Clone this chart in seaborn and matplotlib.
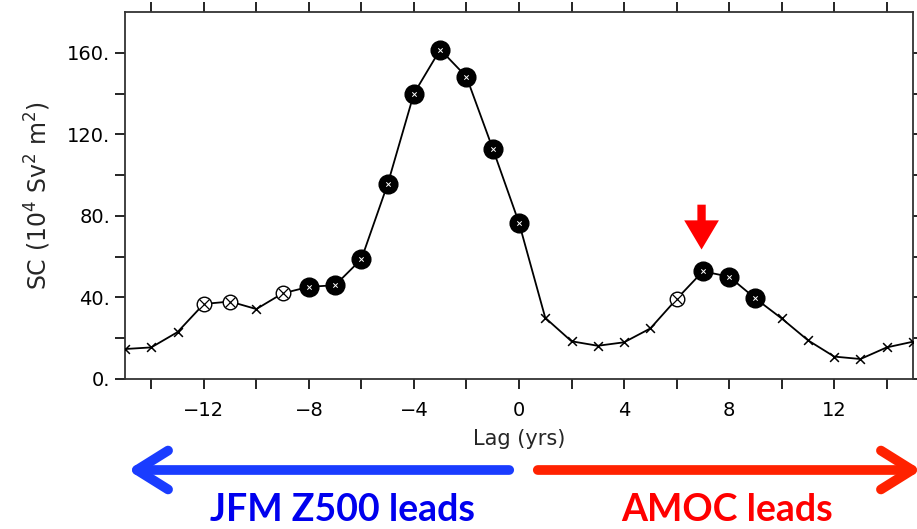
import numpy as np
import pandas as pd
import matplotlib
matplotlib.use("Agg")
import matplotlib.pyplot as plt
import seaborn as sns

# ---------------- DATA ----------------
lags = list(range(-15, 16))
sc_values = [14.7, 15.5, 23.0, 36.8, 38.0, 34.3, 42.0, 45.2, 46.0, 58.8, 95.6,
             140.0, 161.6, 148.2, 113.0, 76.6, 30.0, 18.5, 16.3, 18.0, 24.8,
             39.2, 52.8, 50.2, 39.5, 29.7, 19.0, 11.0, 9.8, 15.5, 18.3]
# significance class per lag: "ns" cross, "s90" circled cross, "s95" filled circle
signif = ["ns", "ns", "ns", "s90", "s90", "ns", "s90", "s95", "s95", "s95", "s95",
          "s95", "s95", "s95", "s95", "s95", "ns", "ns", "ns", "ns", "ns",
          "s90", "s95", "s95", "s95", "ns", "ns", "ns", "ns", "ns", "ns"]
x_ticks_major = [-12, -8, -4, 0, 4, 8, 12]
y_ticks_major = [0, 40, 80, 120, 160]
arrow_lag = 7

df = pd.DataFrame({"lag": lags, "sc": sc_values, "sig": signif})

# ---------------- STYLE ----------------
sns.set_style("ticks")
plt.rcParams["font.family"] = ["DejaVu Sans"]

fig = plt.figure(figsize=(9.17, 5.29), dpi=100)
ax = fig.add_axes([125 / 917, 1 - 379 / 529, 788 / 917, 367 / 529])

sns.lineplot(data=df, x="lag", y="sc", color="black", lw=1.3, ax=ax, zorder=2)

ns = df[df["sig"] == "ns"]
s90 = df[df["sig"] == "s90"]
s95 = df[df["sig"] == "s95"]
sns.scatterplot(data=ns, x="lag", y="sc", marker="x", s=40, color="black",
                linewidth=1.1, ax=ax, zorder=3)
sns.scatterplot(data=s90, x="lag", y="sc", marker="o", s=110, facecolor="white",
                edgecolor="black", linewidth=1.0, ax=ax, zorder=3)
sns.scatterplot(data=s90, x="lag", y="sc", marker="x", s=50, color="black",
                linewidth=0.9, ax=ax, zorder=4)
sns.scatterplot(data=s95, x="lag", y="sc", marker="o", s=180, color="black",
                edgecolor="black", ax=ax, zorder=3)
sns.scatterplot(data=s95, x="lag", y="sc", marker="x", s=10, color="white",
                linewidth=0.7, ax=ax, zorder=4)

# ---------------- AXES ----------------
ax.set_xlim(-15, 15)
ax.set_ylim(0, 180)
ax.set_xticks(x_ticks_major)
ax.set_xticklabels([str(v).replace("-", "\u2212") for v in x_ticks_major])
ax.set_xticks(range(-14, 15, 2), minor=True)
ax.set_yticks(y_ticks_major)
ax.set_yticklabels([f"{v}." for v in y_ticks_major])
ax.set_yticks(range(20, 180, 40), minor=True)
ax.tick_params(which="both", direction="out", length=7, width=1.2,
               top=True, right=True, labelsize=14, colors="black")
ax.tick_params(axis="x", pad=9)
for sp in ax.spines.values():
    sp.set_linewidth(1.3)
    sp.set_color("#333333")
ax.set_xlabel("Lag (yrs)", fontsize=15, labelpad=6)
ax.set_ylabel("SC (10$^4$ Sv$^2$ m$^2$)", fontsize=17, labelpad=10)

# red arrow marking second peak
ax.annotate("", xy=(arrow_lag - 0.05, 63.5), xytext=(arrow_lag - 0.05, 85.5),
            arrowprops=dict(arrowstyle="simple,head_length=2.1,head_width=2.5,tail_width=0.6",
                            color="#ff0000", lw=0, shrinkA=0, shrinkB=0))

# ---------------- LEAD ARROWS ----------------
y_arr = 1 - 470 / 529
fig.patches.append(matplotlib.patches.FancyArrowPatch(
    (512 / 917, y_arr), (125 / 917, y_arr), transform=fig.transFigure,
    arrowstyle="->,head_length=1.6,head_width=1.0", color="#1a3cff",
    lw=7, capstyle="round", joinstyle="round", mutation_scale=14))
fig.patches.append(matplotlib.patches.FancyArrowPatch(
    (535 / 917, y_arr), (924 / 917, y_arr), transform=fig.transFigure,
    arrowstyle="->,head_length=1.6,head_width=1.0", color="#ff2200",
    lw=7, capstyle="round", joinstyle="round", mutation_scale=14))

fig.text(342 / 917, 1 - 510 / 529, "JFM Z500 leads", color="#0000ee",
         fontsize=27, fontweight="bold", family=["Lato", "DejaVu Sans"],
         ha="center", va="center")
fig.text(727 / 917, 1 - 510 / 529, "AMOC leads", color="#ff0000",
         fontsize=27, fontweight="bold", family=["Lato", "DejaVu Sans"],
         ha="center", va="center")

fig.savefig("out.png", dpi=100)
